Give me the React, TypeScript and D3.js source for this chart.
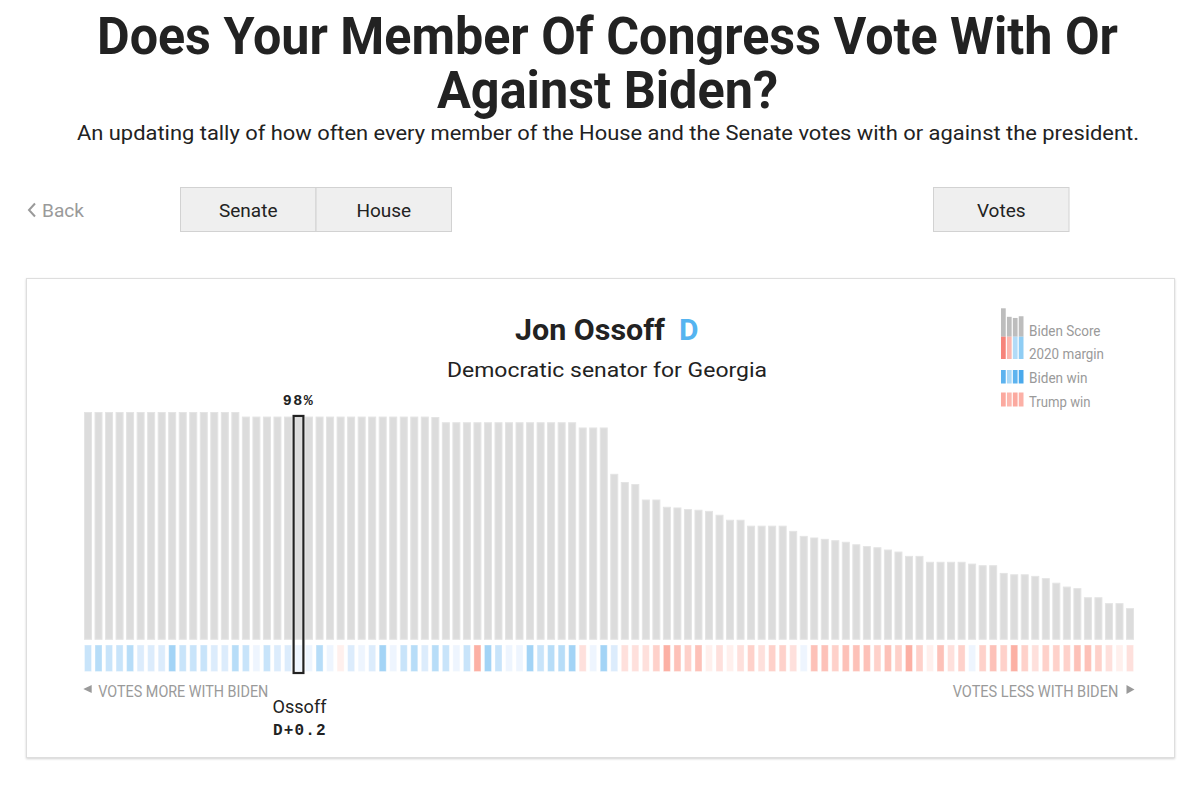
import React from 'react';
import * as d3 from 'd3';

// Biden Score per senator, ordered from most to least with Biden (%)
const bidenScores: number[] = [
  100, 100, 100, 100, 100, 100, 100, 100, 100, 100,
  100, 100, 100, 100, 100, 98, 98, 98, 98, 98,
  98, 98, 98, 98, 98, 98, 98, 98, 98, 98,
  98, 98, 98, 97.8, 95.5, 95.5, 95.5, 95.5, 95.5, 95.5,
  95.5, 95.5, 95.5, 95.5, 95.5, 95.5, 95.5, 93.2, 93.2, 93.2,
  72.8, 69.2, 68.3, 61.5, 61.5, 58.3, 58.0, 57.3, 57.0, 56.5,
  54.8, 52.6, 52.6, 50.0, 50.0, 50.0, 50.0, 47.7, 45.5, 44.8,
  44.2, 43.6, 42.9, 41.8, 41.0, 40.5, 39.5, 38.6, 36.7, 36.7,
  34.1, 34.1, 34.1, 34.1, 33.3, 32.6, 32.6, 29.2, 28.6, 28.6,
  27.9, 26.9, 24.9, 23.2, 22.5, 18.5, 18.5, 15.9, 15.9, 13.7,
];

// 2020 presidential margin of each senator's state (+ Biden, - Trump)
const stateMargins: number[] = [
  13.5, 20.2, 11.1, 13.2, 19.3, 7.2, 5.4, 5.4, 33.2, 10.1,
  16.2, 16.2, 9.4, 9.4, 23.1, 13.5, 2.8, 11.1, 7.2, 7.4,
  0.2, 0.3, 20.0, 2.4, -3.4, 8.3, 2.8, 7.4, 29.2, 2.4,
  10.1, 23.1, 5.4, 24.2, 11.1, 3.0, 13.5, -39.0, 29.5, 16.1,
  2.8, 0.3, 29.2, 13.2, 19.5, 17.5, 33.5, -8.1, 1.5, 33.2,
  7.2, -8.2, -7.7, -9.0, -14.0, -30.6, -20.6, -11.8, -20.9, -3.3,
  -8.1, -1.4, -7.7, -15.1, -8.2, -11.8, -15.4, -6.8, 2.4, -19.2,
  -20.9, -14.8, -21.5, -19.2, -22.4, -15.1, -20.6, -11.5, -33.1, -14.8,
  -3.4, -23.2, -8.2, -16.1, 2.8, -11.5, -19.1, -13.2, -30.6, -16.1,
  -9.5, -14.6, -11.8, -12.2, -21.9, -22.1, -16.1, -8.1, -3.3, -6.8,
];

const focusIndex = 20;
const focusShortName = 'Ossoff';
const focusFullName = 'Jon Ossoff';
const focusParty = 'D';
const focusDescription = 'Democratic senator for Georgia';
const focusMarginLabel = 'D+0.2';

const marginThresholds = [-25, -17, -10, -4, 0, 4, 10, 17, 25];
const marginColors = [
  '#fcb0a4', '#fdc1b8', '#fed1ca', '#fee0dc', '#fff0ed',
  '#eef5fe', '#dcecfc', '#c8e4fa', '#b7ddf8', '#a3d4f6',
];

const titleLines = ['Does Your Member Of Congress Vote With Or', 'Against Biden?'];
const subtitle = 'An updating tally of how often every member of the House and the Senate votes with or against the president.';
const chamberButtons = ['Senate', 'House'];
const viewButton = 'Votes';
const backLabel = 'Back';
const axisLeftLabel = 'VOTES MORE WITH BIDEN';
const axisRightLabel = 'VOTES LESS WITH BIDEN';

const legendLabels = ['Biden Score', '2020 margin', 'Biden win', 'Trump win'];
const legendScoreTops = [100, 70, 66, 72];
const legendMarginColors = ['#f6837a', '#fcb6ae', '#b2dbf7', '#8fcdf4'];
const legendBidenWinColors = ['#5db3ef', '#a9d8f7', '#5db3ef', '#4aa9ec'];
const legendTrumpWinColors = ['#fba99f', '#fcb7ae', '#fba99f', '#fcb0a6'];

const SANS = 'Roboto, "Noto Sans", "DejaVu Sans", sans-serif';
const MONO = '"Liberation Mono", "DejaVu Sans Mono", monospace';
const CONDENSE = 0.8;

export default function App() {
  const n = bidenScores.length;
  const x = d3
    .scaleBand<number>()
    .domain(d3.range(n))
    .range([84, 1134])
    .paddingInner(0.24)
    .paddingOuter(0);
  const y = d3.scaleLinear().domain([0, 100]).range([639.3, 412]);
  const color = d3.scaleThreshold<number, string>().domain(marginThresholds).range(marginColors);
  const bw = x.bandwidth();
  const stripTop = 644.5;
  const stripBottom = 672;

  const fx = x(focusIndex)!;
  const fcx = fx + bw / 2;

  // legend
  const legX = d3.scaleBand<number>().domain(d3.range(4)).range([1001, 1023.5]).paddingInner(0.2);
  const legScoreY = d3.scaleLinear().domain([0, 100]).range([336.7, 308.3]);

  return (
    <svg
      width={1200}
      height={798}
      style={{ position: 'absolute', left: 0, top: 0, background: '#fff' }}
    >
      <defs>
        <filter id="cardShadow" x="-5%" y="-5%" width="110%" height="115%">
          <feDropShadow dx="0" dy="1" stdDeviation="1.2" floodColor="#000" floodOpacity="0.18" />
        </filter>
      </defs>
      <rect x={0} y={0} width={1200} height={798} fill="#fff" />

      {/* Title */}
      <text x={97} y={54} fontFamily={SANS} fontWeight={700} fontSize={51} fill="#222"
        textLength={1021} lengthAdjust="spacingAndGlyphs">{titleLines[0]}</text>
      <text x={437} y={108} fontFamily={SANS} fontWeight={700} fontSize={51} fill="#222"
        textLength={341} lengthAdjust="spacingAndGlyphs">{titleLines[1]}</text>
      <text x={77} y={140} fontFamily={SANS} fontSize={20} fill="#222"
        textLength={1062} lengthAdjust="spacingAndGlyphs">{subtitle}</text>

      {/* Navigation */}
      <path d="M35,203.5 L29,210 L35,216.5" fill="none" stroke="#9a9a9a" strokeWidth={2} />
      <text x={42} y={217} fontFamily={SANS} fontSize={19} fill="#9a9a9a"
        textLength={42} lengthAdjust="spacingAndGlyphs">{backLabel}</text>
      {chamberButtons.map((b, i) => (
        <g key={b}>
          <rect x={180.5 + i * 135.5} y={187.5} width={135.5} height={44} fill="#efefef" stroke="#d2d2d2" />
          <text x={180.5 + i * 135.5 + 67.75} y={217} textAnchor="middle" fontFamily={SANS} fontSize={19} fill="#222">{b}</text>
        </g>
      ))}
      <rect x={933.5} y={187.5} width={135.5} height={44} fill="#efefef" stroke="#d2d2d2" />
      <text x={1001.25} y={217} textAnchor="middle" fontFamily={SANS} fontSize={19} fill="#222">{viewButton}</text>

      {/* Card */}
      <rect x={26.5} y={278.5} width={1148} height={479} fill="#fff" stroke="#dedede" filter="url(#cardShadow)" />

      {/* Card heading */}
      <text x={515} y={340} fontFamily={SANS} fontWeight={700} fontSize={30} fill="#222"
        textLength={150} lengthAdjust="spacingAndGlyphs">{focusFullName}</text>
      <text x={679} y={340} fontFamily={SANS} fontWeight={700} fontSize={30} fill="#55b4f0">{focusParty}</text>
      <text x={447} y={377} fontFamily={SANS} fontSize={21} fill="#222"
        textLength={320} lengthAdjust="spacingAndGlyphs">{focusDescription}</text>

      {/* Legend */}
      {legendScoreTops.map((v, i) => (
        <g key={'ls' + i}>
          <rect x={legX(i)} y={legScoreY(v)} width={legX.bandwidth()} height={336.7 - legScoreY(v)} fill="#bdbdbd" />
          <rect x={legX(i)} y={336.7} width={legX.bandwidth()} height={22.3} fill={legendMarginColors[i]} />
          <rect x={legX(i)} y={370} width={legX.bandwidth()} height={13.5} fill={legendBidenWinColors[i]} />
          <rect x={legX(i)} y={392.5} width={legX.bandwidth()} height={14} fill={legendTrumpWinColors[i]} />
        </g>
      ))}
      {legendLabels.map((l, i) => (
        <text key={l} x={1029} y={[336, 358.5, 383.3, 406.5][i]} fontFamily={SANS} fontSize={15} fill="#9a9a9a"
          textLength={[71.5, 75, 58.5, 61.5][i]} lengthAdjust="spacingAndGlyphs">{l}</text>
      ))}

      {/* Biden score bars */}
      {bidenScores.map((v, i) => (
        <rect key={'b' + i} x={x(i)! + 0.5} y={y(v) + 0.5} width={bw - 1} height={y(0) - y(v) - 0.5}
          fill="#dcdcdc" stroke="#e4e4e4" strokeWidth={1} />
      ))}
      {/* 2020 margin strip */}
      {stateMargins.map((m, i) => (
        <rect key={'m' + i} x={x(i)! + 0.5} y={stripTop + 0.5} width={bw - 1} height={stripBottom - stripTop - 1}
          fill={color(m)} stroke="#ffffff" strokeOpacity={0.35} strokeWidth={1} />
      ))}

      {/* Focus highlight */}
      <rect x={fx - 0.9} y={y(bidenScores[focusIndex]) - 0.6} width={bw + 1.8}
        height={673 - y(bidenScores[focusIndex]) + 0.6} fill="none" stroke="#222" strokeWidth={2.2} />
      <text x={fcx} y={405} textAnchor="middle" fontFamily={MONO} fontWeight={700} fontSize={15}
        letterSpacing={1.5} fill="#222">{`${Math.round(bidenScores[focusIndex])}%`}</text>
      <text x={272.5} y={713} fontFamily={SANS} fontSize={18} fill="#222"
        textLength={54} lengthAdjust="spacingAndGlyphs">{focusShortName}</text>
      <text x={273} y={735} fontFamily={MONO} fontWeight={700} fontSize={16} fill="#222"
        textLength={52.5} lengthAdjust="spacing">{focusMarginLabel}</text>

      {/* Direction labels */}
      <path d="M91.7,685 L83.3,689 L91.7,693 Z" fill="#9a9a9a" />
      <g transform={`translate(98.3,696.7) scale(${CONDENSE},1)`}>
        <text x={0} y={0} fontFamily={SANS} fontSize={17} fill="#9a9a9a"
          textLength={170 / CONDENSE} lengthAdjust="spacingAndGlyphs">{axisLeftLabel}</text>
      </g>
      <g transform={`translate(952.7,696.7) scale(${CONDENSE},1)`}>
        <text x={0} y={0} fontFamily={SANS} fontSize={17} fill="#9a9a9a"
          textLength={165.6 / CONDENSE} lengthAdjust="spacingAndGlyphs">{axisRightLabel}</text>
      </g>
      <path d="M1126.5,685 L1134.5,689.5 L1126.5,694 Z" fill="#9a9a9a" />
    </svg>
  );
}
